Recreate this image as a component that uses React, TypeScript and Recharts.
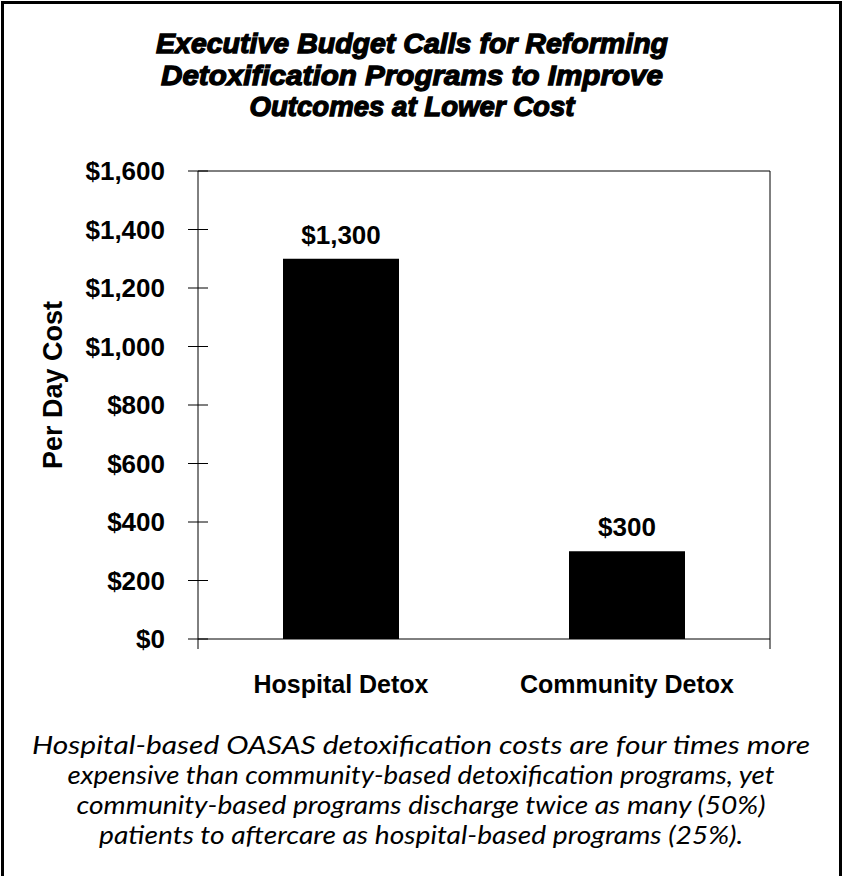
import { Bar, BarChart, LabelList, XAxis, YAxis } from "recharts";

const categories = ["Hospital Detox", "Community Detox"];
const perDayCost = [1300, 300];
const yTicks = [0, 200, 400, 600, 800, 1000, 1200, 1400, 1600];
const boundaryTicks = [0, 1, 2];

const titleLines = [
  "Executive Budget Calls for Reforming",
  "Detoxification Programs to Improve",
  "Outcomes at Lower Cost",
];
const titleWidths = [512, 502, 325];

const captionLines = [
  "Hospital-based OASAS detoxification costs are four times more",
  "expensive than community-based detoxification programs, yet",
  "community-based programs discharge twice as many (50%)",
  "patients to aftercare as hospital-based programs (25%).",
];
const captionWidths = [778, 707, 689, 644];

const data = categories.map((name, i) => ({ name, cost: perDayCost[i] }));

const ARIAL = "'Liberation Sans', Arial, sans-serif";
const money = (v: number) => "$" + v.toLocaleString("en-US");

// y tick: label plus a tick line that crosses the axis
const YTick = (props: any) => {
  const { x, y, payload } = props;
  return (
    <g>
      <line x1={x + 23} x2={x + 43} y1={y} y2={y} stroke="#000" />
      <text
        x={x}
        y={y}
        dy="0.36em"
        textAnchor="end"
        fontFamily={ARIAL}
        fontWeight="bold"
        fontSize={26}
        fill="#000"
      >
        {money(payload.value)}
      </text>
    </g>
  );
};

const NoLabel = () => <g />;

export default function App() {
  return (
    <div style={{ position: "absolute", left: 0, top: 0, width: 843, height: 876, background: "#fff" }}>
      <div
        style={{
          position: "absolute",
          left: 1,
          top: 1,
          width: 841,
          height: 880,
          border: "3px solid #000",
          borderBottom: "none",
          boxSizing: "border-box",
        }}
      />
      <div style={{ position: "absolute", left: 0, top: 0 }}>
        <BarChart
          width={843}
          height={876}
          data={data}
          margin={{ top: 170, right: 72, bottom: 235, left: 0 }}
        >
          <XAxis
            xAxisId="b"
            type="number"
            domain={[0, 2]}
            allowDataOverflow
            ticks={boundaryTicks}
            tick={NoLabel}
            tickSize={10}
            height={1}
            stroke="#000"
          />
          <XAxis
            xAxisId="cat"
            dataKey="name"
            height={1}
            axisLine={false}
            tickLine={false}
            tickMargin={29}
            tick={{ fill: "#000", fontFamily: ARIAL, fontWeight: "bold", fontSize: 25 }}
          />
          <XAxis
            xAxisId="t"
            orientation="top"
            dataKey="name"
            height={1}
            tick={false}
            tickLine={false}
            stroke="#000"
          />
          <YAxis
            domain={[0, 1600]}
            ticks={yTicks}
            width={198}
            tickSize={10}
            tickMargin={23}
            tickLine={false}
            tick={<YTick />}
            stroke="#000"
            interval={0}
          />
          <YAxis
            yAxisId="r"
            orientation="right"
            domain={[0, 1600]}
            width={1}
            tick={false}
            tickLine={false}
            stroke="#000"
          />
          <Bar
            dataKey="cost"
            xAxisId="cat"
            fill="#000"
            barSize={116}
            isAnimationActive={false}
          >
            <LabelList
              dataKey="cost"
              position="top"
              offset={15}
              formatter={(v: any) => money(Number(v))}
              fill="#000"
              fontFamily={ARIAL}
              fontWeight="bold"
              fontSize={26}
            />
          </Bar>
        </BarChart>
      </div>
      <svg
        width={843}
        height={876}
        style={{ position: "absolute", left: 0, top: 0, pointerEvents: "none" }}
      >
        {titleLines.map((t, i) => (
          <text
            key={t}
            x={412}
            y={53 + i * 31.5}
            textAnchor="middle"
            textLength={titleWidths[i]}
            lengthAdjust="spacingAndGlyphs"
            fontFamily={ARIAL}
            fontWeight="bold"
            fontStyle="italic"
            fontSize={28}
            fill="#000"
            stroke="#000"
            strokeWidth={1.3}
          >
            {t}
          </text>
        ))}
        <text
          transform="translate(62, 385) rotate(-90)"
          textAnchor="middle"
          fontFamily={ARIAL}
          fontWeight="bold"
          fontSize={27}
          fill="#000"
        >
          Per Day Cost
        </text>
        {captionLines.map((t, i) => (
          <text
            key={t}
            x={421}
            y={754 + i * 30}
            textAnchor="middle"
            textLength={captionWidths[i]}
            lengthAdjust="spacingAndGlyphs"
            fontFamily="Lato, 'Open Sans', sans-serif"
            fontStyle="italic"
            fontSize={25}
            fill="#000"
          >
            {t}
          </text>
        ))}
      </svg>
    </div>
  );
}
